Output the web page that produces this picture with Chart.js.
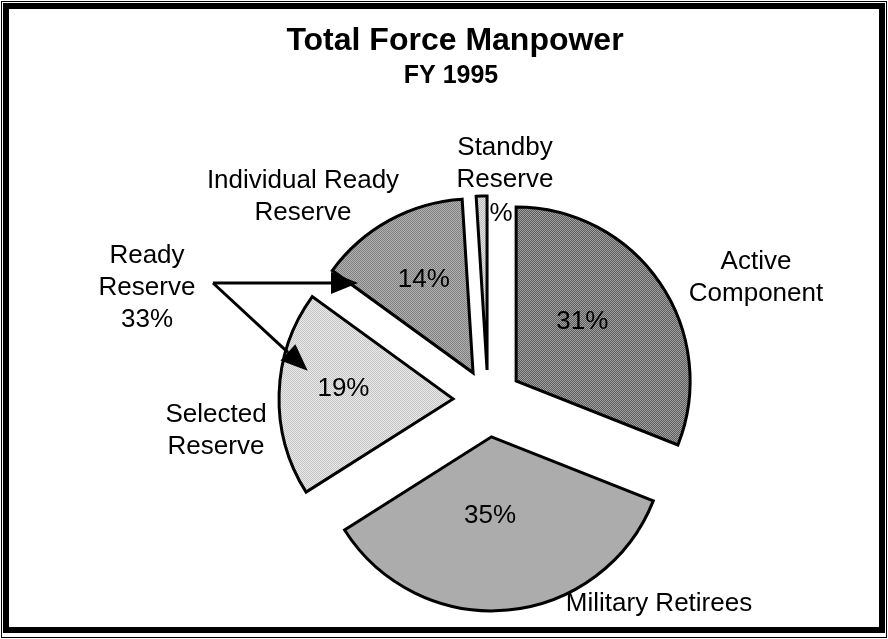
<!DOCTYPE html>
<html>
<head>
<meta charset="utf-8">
<script src="https://cdn.jsdelivr.net/npm/chart.js@4.4.1/dist/chart.umd.min.js"></script>
<style>
  html, body { margin: 0; padding: 0; background: #fff; }
  canvas { display: block; }
</style>
</head>
<body>
<canvas id="chart" width="888" height="639"></canvas>
<script>
// Data
const categories = ['Active Component', 'Military Retirees', 'Selected Reserve', 'Individual Ready Reserve', 'Standby Reserve'];
const shares = [31, 35, 19, 14, 1];
const labelLines = [['Active', 'Component'], ['Military Retirees'], ['Selected', 'Reserve'], ['Individual Ready', 'Reserve'], ['Standby', 'Reserve']];
const groupLines = ['Ready', 'Reserve'];
const groupMembers = [2, 3];
const titleText = 'Total Force Manpower';
const subtitleText = 'FY 1995';

// Style / layout
const FONT = '"Liberation Sans", Arial, Helvetica, sans-serif';
const explode = [34, 37, 35, 31, 30];                 // px each slice is pulled out
const pctSpots = [[48, 89], [181, 79], [275, 110], [332, 105], [2.5, 156]]; // [deg, px] from slice tip
const labelSpots = [[756, 262], [659, 604], [216, 415], [303, 181], [505, 148]];
const groupSpot = [147, 256];
const arrowFrom = [213, 283];
const arrowSpots = [[281, 148], [308, 146]];        // [deg, px] from member slice tip
const LINE_H = 32;

function dither(a, b, n) {
  const c = document.createElement('canvas');
  c.width = c.height = n;
  const g = c.getContext('2d');
  g.fillStyle = b;
  g.fillRect(0, 0, n, n);
  g.fillStyle = a;
  for (let y = 0; y < n; y++) {
    for (let x = 0; x < n; x++) {
      if ((x + y) % 2 === 0) g.fillRect(x, y, 1, 1);
    }
  }
  return g.createPattern(c, 'repeat');
}

const fills = [
  dither('#4a4a4a', '#b4b4b4', 2),
  dither('#8a8a8a', '#cfcfcf', 2),
  dither('#bdbdbd', '#f2f2f2', 2),
  dither('#6e6e6e', '#c4c4c4', 2),
  dither('#b0b0b0', '#ececec', 2)
];

function tipOf(arc, i) {
  const mid = (arc.startAngle + arc.endAngle) / 2;
  return { x: arc.x + Math.cos(mid) * explode[i], y: arc.y + Math.sin(mid) * explode[i] };
}

function polar(p, deg, r) {
  const a = deg * Math.PI / 180;
  return { x: p.x + Math.sin(a) * r, y: p.y - Math.cos(a) * r };
}

function textLines(ctx, lines, x, y) {
  lines.forEach((t, k) => ctx.fillText(t, x, y + k * LINE_H));
}

function arrow(ctx, x0, y0, x1, y1) {
  const ang = Math.atan2(y1 - y0, x1 - x0);
  const len = 27, half = 11;
  const bx = x1 - Math.cos(ang) * len, by = y1 - Math.sin(ang) * len;
  ctx.beginPath();
  ctx.moveTo(x0, y0);
  ctx.lineTo(bx, by);
  ctx.stroke();
  ctx.beginPath();
  ctx.moveTo(x1, y1);
  ctx.lineTo(bx - Math.sin(ang) * half, by + Math.cos(ang) * half);
  ctx.lineTo(bx + Math.sin(ang) * half, by - Math.cos(ang) * half);
  ctx.closePath();
  ctx.fill();
}

const explodedPie = {
  id: 'explodedPie',
  beforeDatasetsDraw(chart) {
    // the "1%" sits partly under the thin standby slice
    const ctx = chart.ctx;
    const arcs = chart.getDatasetMeta(0).data;
    const i = 4;
    const p = polar(tipOf(arcs[i], i), pctSpots[i][0], pctSpots[i][1]);
    ctx.save();
    ctx.font = '26px ' + FONT;
    ctx.fillStyle = '#000';
    ctx.textAlign = 'center';
    ctx.textBaseline = 'middle';
    ctx.fillText(shares[i] + '%', p.x, p.y);
    ctx.restore();
  },
  beforeDatasetDraw(chart, args) {
    const ctx = chart.ctx;
    args.meta.data.forEach((arc, i) => {
      const mid = (arc.startAngle + arc.endAngle) / 2;
      ctx.save();
      ctx.translate(Math.cos(mid) * explode[i], Math.sin(mid) * explode[i]);
      arc.draw(ctx);
      ctx.restore();
    });
    return false;
  },
  afterDatasetsDraw(chart) {
    const ctx = chart.ctx;
    const arcs = chart.getDatasetMeta(0).data;
    ctx.save();
    ctx.fillStyle = '#000';
    ctx.strokeStyle = '#000';
    ctx.textAlign = 'center';
    ctx.textBaseline = 'middle';
    ctx.font = '26px ' + FONT;

    arcs.forEach((arc, i) => {
      if (i !== 4) {
        const p = polar(tipOf(arc, i), pctSpots[i][0], pctSpots[i][1]);
        ctx.fillText(shares[i] + '%', p.x, p.y);
      }
      textLines(ctx, labelLines[i], labelSpots[i][0], labelSpots[i][1]);
    });

    const groupTotal = groupMembers.reduce((s, k) => s + shares[k], 0);
    textLines(ctx, groupLines.concat([groupTotal + '%']), groupSpot[0], groupSpot[1]);

    ctx.lineWidth = 3;
    groupMembers.forEach((k, j) => {
      const p = polar(tipOf(arcs[k], k), arrowSpots[j][0], arrowSpots[j][1]);
      arrow(ctx, arrowFrom[0], arrowFrom[1], p.x, p.y);
    });

    ctx.font = 'bold 32px ' + FONT;
    ctx.fillText(titleText, 455, 41);
    ctx.font = 'bold 25px ' + FONT;
    ctx.fillText(subtitleText, 451, 76);

    ctx.lineWidth = 6;
    ctx.strokeRect(6, 6, 876, 624);
    ctx.lineWidth = 1;
    ctx.strokeRect(1.5, 1.5, 885, 636);
    ctx.restore();
  }
};

new Chart(document.getElementById('chart'), {
  type: 'pie',
  data: {
    labels: categories,
    datasets: [{
      data: shares,
      backgroundColor: fills,
      borderColor: '#000',
      borderWidth: 3,
      borderJoinStyle: 'miter'
    }]
  },
  options: {
    responsive: false,
    animation: false,
    rotation: 0,
    radius: 174,
    layout: { padding: { left: 100, right: 12, top: 171, bottom: 10 } },
    plugins: {
      legend: { display: false },
      title: { display: false },
      tooltip: { enabled: false }
    }
  },
  plugins: [explodedPie]
});
</script>
</body>
</html>
